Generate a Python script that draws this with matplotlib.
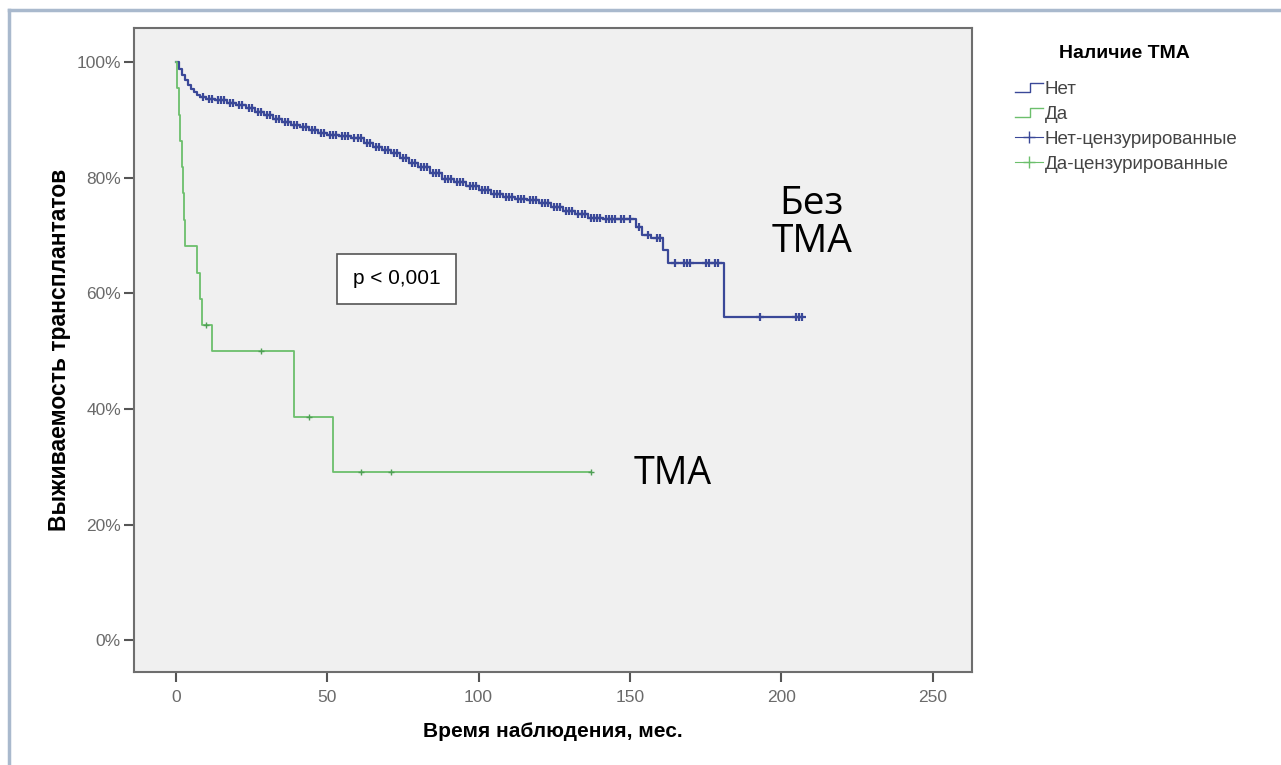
import numpy as np
import matplotlib
matplotlib.use("Agg")
import matplotlib.pyplot as plt
from matplotlib.lines import Line2D
from matplotlib.legend_handler import HandlerBase

plt.rcParams['font.family'] = ['Liberation Sans', 'DejaVu Sans']

# --- data ---
# group "Нет" (no TMA): event times (months) and survival (%)
net_t = [0, 1, 2, 3, 4, 5, 6, 7, 8, 10, 13, 17, 20, 23, 26, 29, 32, 35, 38, 41,
         44, 47, 50, 54, 58, 62, 65, 68, 71, 74, 77, 80, 84, 88, 92, 96, 100,
         104, 108, 112, 116, 120, 124, 128, 132, 136, 141, 152, 154, 157, 161,
         162.5, 181]
net_s = [100, 98.8, 97.8, 96.9, 96.1, 95.4, 94.8, 94.3, 93.9, 93.6, 93.4, 93.0,
         92.5, 92.0, 91.4, 90.8, 90.2, 89.6, 89.2, 88.8, 88.3, 87.7, 87.4, 87.2,
         86.8, 86.0, 85.3, 84.8, 84.2, 83.4, 82.6, 81.8, 80.9, 79.8, 79.3, 78.6,
         77.9, 77.2, 76.7, 76.4, 76.1, 75.7, 75.0, 74.3, 73.7, 73.1, 72.9, 71.5,
         70.1, 69.6, 67.5, 65.2, 55.9]
net_end = 207
net_cens = [9, 11, 12, 14, 15, 16, 18, 19, 21, 22, 24, 25, 27, 28, 30, 31, 33, 34,
            36, 37, 39, 40, 42, 43, 45, 46, 48, 49, 51, 52, 53, 55, 56, 57, 59, 60,
            61, 63, 64, 66, 67, 69, 70, 72, 73, 75, 76, 78, 79, 81, 82, 83, 85, 86,
            87, 89, 90, 91, 93, 94, 95, 97, 98, 99, 101, 102, 103, 105, 106, 107,
            109, 110, 111, 113, 114, 115, 117, 118, 119, 121, 122, 123, 125, 126,
            127, 129, 130, 131, 133, 134, 135, 137, 138, 139, 140, 142, 143, 144,
            145, 147, 148, 150, 153, 156, 159, 160, 165, 168, 169, 170, 175, 176,
            178, 179, 193, 205, 206, 207]

# group "Да" (TMA)
da_t = [0, 0.5, 1, 1.5, 2, 2.5, 2.8, 3, 7, 8, 8.5, 12, 39, 52]
da_s = [100, 95.5, 90.9, 86.4, 81.8, 77.3, 72.7, 68.2, 63.6, 59.1, 54.5, 50.0,
        38.6, 29.1]
da_end = 137
da_cens = [10, 28, 44, 61, 71, 137]

x_ticks = [0, 50, 100, 150, 200, 250]
y_ticks = [0, 20, 40, 60, 80, 100]

blue = '#3a4898'
green = '#6cbf6c'


def step_xy(t, s, end):
    x = list(t) + [end]
    y = list(s) + [s[-1]]
    return x, y


def surv_at(t, s, times):
    idx = np.searchsorted(t, times, side='right') - 1
    return np.array(s)[idx]


class StepHandler(HandlerBase):
    def create_artists(self, legend, orig, xd, yd, w, h, fontsize, trans):
        xs = [xd, xd + w * 0.55, xd + w * 0.55, xd + w]
        ys = [yd + h * 0.15, yd + h * 0.15, yd + h * 0.85, yd + h * 0.85]
        ln = Line2D(xs, ys, color=orig.get_color(), lw=1.0, transform=trans)
        return [ln]


fig = plt.figure(figsize=(12.81, 7.65), dpi=100)
fig.patch.set_facecolor('white')

# outer frame (top and left edges)
fig.add_artist(Line2D([9 / 1281, 1.0], [1 - 10 / 765] * 2, color='#a9b9cd', lw=2.5,
                      transform=fig.transFigure))
fig.add_artist(Line2D([9 / 1281] * 2, [0, 1 - 10 / 765], color='#a9b9cd', lw=2.5,
                      transform=fig.transFigure))

ax = fig.add_axes([133.5 / 1281, 1 - 672 / 765, (972 - 133.5) / 1281, (672 - 28) / 765])
ax.set_facecolor('#f0f0f0')

x, y = step_xy(net_t, net_s, net_end)
ax.step(x, y, where='post', color=blue, lw=1.6)
ax.plot(net_cens, surv_at(net_t, net_s, net_cens), '+', color=blue, ms=6, mew=1.6)

x, y = step_xy(da_t, da_s, da_end)
ax.step(x, y, where='post', color=green, lw=1.3)
ax.plot(da_cens, surv_at(da_t, da_s, da_cens), '+', color='#4f9f55', ms=5, mew=1.0)

ax.set_xlim(-14, 263)
ax.set_ylim(-5.5, 105.9)
ax.set_xticks(x_ticks)
ax.set_yticks(y_ticks)
ax.set_yticklabels([f'{v}%' for v in y_ticks])
ax.tick_params(colors='#555555', labelsize=12.5, length=7, width=1.5, labelcolor='#6a6a6a')
ax.tick_params(axis='x', pad=6)
ax.tick_params(axis='y', pad=2)
for sp in ax.spines.values():
    sp.set_color('#6e6e6e')
    sp.set_linewidth(1.5)

ax.set_xlabel('Время наблюдения, мес.', fontsize=15, fontweight='bold', labelpad=12)
ax.set_ylabel('Выживаемость трансплантатов', fontsize=16.5, fontweight='bold', labelpad=4)

ax.text(73, 62.5, 'p < 0,001', fontsize=15, ha='center', va='center',
        bbox=dict(boxstyle='square,pad=0.75', fc='white', ec='#555555', lw=1.2))

ax.text(210, 72.1, 'Без\nТМА', fontsize=28, ha='center', va='center',
        family=['Open Sans', 'DejaVu Sans'], linespacing=1.0)
ax.text(164, 28.8, 'ТМА', fontsize=27, ha='center', va='center',
        family=['Open Sans', 'DejaVu Sans'])

# legend: title as separate text, entries below
fig.text(1124 / 1281, 1 - 53 / 765, 'Наличие ТМА', fontsize=14, fontweight='bold',
         ha='center', va='center')
handles = [Line2D([], [], color=blue), Line2D([], [], color=green),
           Line2D([], [], color=blue, marker='+', lw=0.8, ms=9),
           Line2D([], [], color=green, marker='+', lw=0.8, ms=9)]
labels = ['Нет', 'Да', 'Нет-цензурированные', 'Да-цензурированные']
leg = fig.legend(handles, labels, loc='upper left', bbox_to_anchor=(998 / 1281, 1 - 64 / 765),
                 frameon=False, fontsize=13.5, handlelength=1.5,
                 handletextpad=0.1, labelspacing=0.42,
                 handler_map={handles[0]: StepHandler(), handles[1]: StepHandler()})
for t in leg.get_texts():
    t.set_color('#444444')

fig.savefig('out.png', dpi=100)
